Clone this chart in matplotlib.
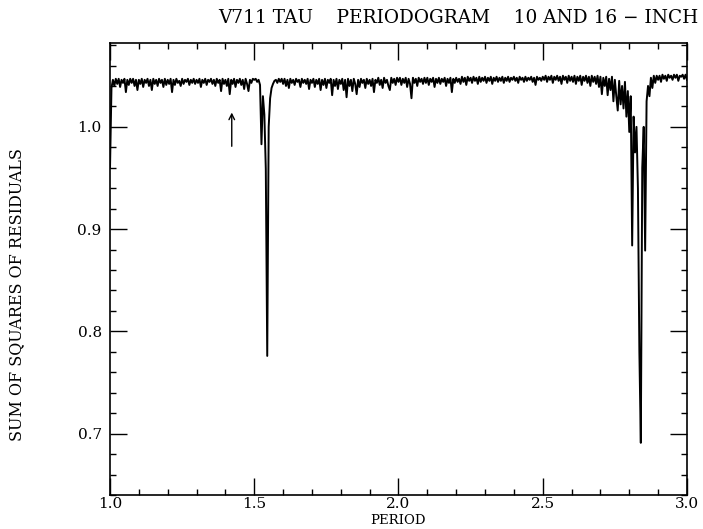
import numpy as np
import matplotlib.pyplot as plt
from matplotlib.ticker import MultipleLocator

# trial periods (days), sampled every 0.005
period = np.linspace(1.0, 3.0, 401)

# sum of squares of residuals, one row per 0.1 in period
ssr = [
    0.960, 1.038, 1.046, 1.040, 1.047, 1.042, 1.047, 1.039, 1.046, 1.043,
    1.047, 1.034, 1.046, 1.041, 1.047, 1.043, 1.047, 1.040, 1.046, 1.036,
    # 1.1
    1.046, 1.042, 1.047, 1.039, 1.046, 1.043, 1.047, 1.040, 1.046, 1.036,
    1.047, 1.042, 1.046, 1.040, 1.047, 1.043, 1.046, 1.039, 1.047, 1.041,
    # 1.2
    1.046, 1.042, 1.047, 1.034, 1.046, 1.041, 1.047, 1.043, 1.045, 1.040,
    1.047, 1.042, 1.046, 1.044, 1.047, 1.041, 1.046, 1.043, 1.047, 1.042,
    # 1.3
    1.046, 1.043, 1.047, 1.039, 1.046, 1.043, 1.047, 1.041, 1.046, 1.044,
    1.047, 1.042, 1.046, 1.040, 1.047, 1.043, 1.046, 1.035, 1.047, 1.042,
    # 1.4
    1.046, 1.040, 1.047, 1.032, 1.046, 1.042, 1.047, 1.039, 1.046, 1.043,
    1.047, 1.041, 1.046, 1.037, 1.047, 1.042, 1.035, 1.046, 1.043, 1.047,
    # 1.5
    1.046, 1.047, 1.044, 1.046, 1.041, 0.983, 1.030, 1.012, 0.959, 0.776,
    1.000, 1.028, 1.038, 1.042, 1.045, 1.046, 1.043, 1.047, 1.044, 1.047,
    # 1.6
    1.042, 1.047, 1.040, 1.046, 1.038, 1.047, 1.043, 1.046, 1.041, 1.047,
    1.044, 1.046, 1.039, 1.047, 1.043, 1.046, 1.042, 1.047, 1.037, 1.046,
    # 1.7
    1.043, 1.047, 1.039, 1.046, 1.042, 1.047, 1.036, 1.046, 1.041, 1.047,
    1.038, 1.046, 1.043, 1.047, 1.031, 1.046, 1.040, 1.047, 1.037, 1.046,
    # 1.8
    1.042, 1.047, 1.036, 1.046, 1.029, 1.047, 1.040, 1.046, 1.035, 1.047,
    1.042, 1.032, 1.046, 1.039, 1.047, 1.043, 1.046, 1.038, 1.047, 1.042,
    # 1.9
    1.046, 1.040, 1.047, 1.034, 1.046, 1.043, 1.048, 1.041, 1.046, 1.038,
    1.048, 1.043, 1.046, 1.040, 1.036, 1.048, 1.043, 1.047, 1.041, 1.048,
    # 2.0
    1.044, 1.048, 1.041, 1.047, 1.043, 1.048, 1.039, 1.047, 1.042, 1.028,
    1.048, 1.043, 1.047, 1.040, 1.048, 1.044, 1.047, 1.042, 1.048, 1.043,
    # 2.1
    1.048, 1.041, 1.047, 1.044, 1.048, 1.039, 1.047, 1.043, 1.048, 1.042,
    1.047, 1.044, 1.048, 1.040, 1.047, 1.043, 1.048, 1.034, 1.047, 1.043,
    # 2.2
    1.048, 1.044, 1.047, 1.042, 1.049, 1.044, 1.048, 1.041, 1.049, 1.045,
    1.048, 1.043, 1.049, 1.045, 1.048, 1.042, 1.049, 1.044, 1.048, 1.045,
    # 2.3
    1.049, 1.043, 1.048, 1.045, 1.049, 1.042, 1.048, 1.045, 1.049, 1.044,
    1.048, 1.045, 1.049, 1.043, 1.048, 1.045, 1.049, 1.044, 1.048, 1.046,
    # 2.4
    1.049, 1.045, 1.048, 1.043, 1.049, 1.046, 1.048, 1.044, 1.049, 1.045,
    1.048, 1.046, 1.049, 1.044, 1.048, 1.041, 1.049, 1.046, 1.048, 1.045,
    # 2.5
    1.049, 1.046, 1.050, 1.044, 1.049, 1.046, 1.050, 1.043, 1.049, 1.046,
    1.050, 1.045, 1.049, 1.042, 1.050, 1.046, 1.049, 1.043, 1.050, 1.045,
    # 2.6
    1.049, 1.044, 1.050, 1.042, 1.049, 1.045, 1.050, 1.041, 1.049, 1.045,
    1.050, 1.043, 1.049, 1.040, 1.050, 1.044, 1.049, 1.042, 1.050, 1.039,
    # 2.7
    1.049, 1.032, 1.048, 1.040, 1.049, 1.031, 1.047, 1.036, 1.049, 1.025,
    1.046, 1.030, 1.016, 1.045, 1.022, 1.040, 1.018, 1.044, 1.010, 1.035,
    # 2.8
    0.995, 1.030, 0.884, 1.010, 0.975, 1.000, 0.940, 0.780, 0.691, 0.960,
    1.000, 0.879, 1.025, 1.040, 1.030, 1.048, 1.038, 1.050, 1.043, 1.050,
    # 2.9
    1.046, 1.050, 1.044, 1.051, 1.047, 1.050, 1.045, 1.051, 1.048, 1.050,
    1.046, 1.051, 1.048, 1.051, 1.045, 1.050, 1.049, 1.051, 1.047, 1.051,
    # 3.0
    1.046,
]

arrow_period = 1.422
arrow_from, arrow_to = 0.981, 1.014

plt.rcParams['font.family'] = 'DejaVu Serif'

fig = plt.figure(figsize=(7.03, 5.29), dpi=100)
ax = fig.add_axes([0.1565, 0.0643, 0.8207, 0.8544])

ax.plot(period, ssr, color='black', lw=1.4)

ax.annotate('', xy=(arrow_period, arrow_to), xytext=(arrow_period, arrow_from),
            arrowprops=dict(arrowstyle='->', color='black', lw=1.0,
                            shrinkA=0, shrinkB=0))

ax.set_xlim(1.0, 3.0)
ax.set_ylim(0.64, 1.082)

ax.xaxis.set_major_locator(MultipleLocator(0.5))
ax.xaxis.set_minor_locator(MultipleLocator(0.1))
ax.yaxis.set_major_locator(MultipleLocator(0.1))
ax.yaxis.set_minor_locator(MultipleLocator(0.02))
ax.xaxis.set_major_formatter(plt.FormatStrFormatter('%.1f'))
ax.yaxis.set_major_formatter(plt.FormatStrFormatter('%.1f'))

ax.tick_params(which='both', direction='in', top=True, right=True,
               width=1.0, labelsize=11)
ax.tick_params(which='major', length=12.5)
ax.tick_params(which='minor', length=4.5)
ax.tick_params(axis='y', pad=6)
ax.tick_params(axis='x', pad=1.5)
for s in ax.spines.values():
    s.set_linewidth(1.2)

fig.text(398 / 703, 1 - 521 / 529, 'PERIOD', ha='center', va='center',
         fontsize=9.5)
fig.text(17 / 703, 1 - 295 / 529, 'SUM OF SQUARES OF RESIDUALS',
         rotation=90, ha='center', va='center', fontsize=11.5)
fig.text(0.993, 1 - 18 / 529, 'V711 TAU    PERIODOGRAM    10 AND 16 \u2212 INCH',
         ha='right', va='center', fontsize=13.3)

fig.savefig('out.png', dpi=100)
